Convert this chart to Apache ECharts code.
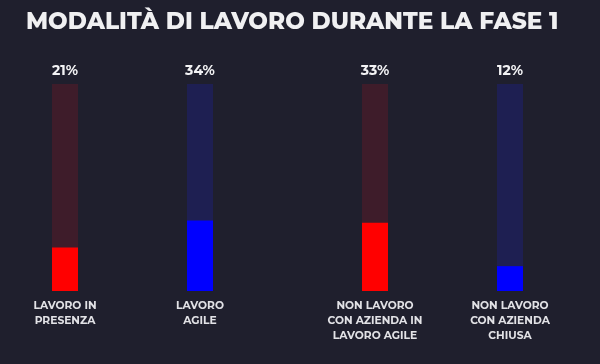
<!DOCTYPE html>
<html><head><meta charset="utf-8">
<script src="https://cdn.jsdelivr.net/npm/echarts@6/dist/echarts.min.js"></script>
<style>html,body{margin:0;padding:0;background:#1f1f2d;}#c{width:600px;height:364px;}</style>
</head><body><div id="c"></div>
<script>
const titleText = 'MODALITÀ DI LAVORO DURANTE LA FASE 1';
const categoriesLeft = ['LAVORO IN\nPRESENZA', 'LAVORO\nAGILE'];
const categoriesRight = ['NON LAVORO\nCON AZIENDA IN\nLAVORO AGILE', 'NON LAVORO\nCON AZIENDA\nCHIUSA'];
const valuesLeft = [21, 34];
const valuesRight = [33, 12];
const scaleMax = 100;
const barColors = ['#ff0000', '#0000ff'];
const trackColors = ['#3e1c2a', '#1e1f52'];

const chart = echarts.init(document.getElementById('c'));
function catAxis(idx, cats){
  return {type:'category', gridIndex:idx, data:cats, boundaryGap:false,
    axisLine:{show:false}, axisTick:{show:false}, splitLine:{show:false},
    axisLabel:{interval:0, margin:7, color:'#e2e2e6', fontFamily:'Montserrat, "Open Sans", sans-serif',
      fontWeight:'bold', fontSize:10.7, lineHeight:15}};
}
function valAxis(idx){
  return {type:'value', gridIndex:idx, min:0, max:scaleMax, show:false};
}
function seriesFor(idx, vals){
  return [
    {type:'bar', xAxisIndex:idx, yAxisIndex:idx, barWidth:26, barGap:'-100%', silent:true,
      data: vals.map((v,i)=>({value:scaleMax, itemStyle:{color:trackColors[i]}})),
      label:{show:true, position:'top', distance:6, color:'#f2f2f4', fontSize:14, fontWeight:'bold',
        fontFamily:'Montserrat, "Open Sans", sans-serif',
        formatter:p=>vals[p.dataIndex]+'%'}},
    {type:'bar', xAxisIndex:idx, yAxisIndex:idx, barWidth:26, barGap:'-100%', silent:true,
      data: vals.map((v,i)=>({value:v, itemStyle:{color:barColors[i]}}))}
  ];
}
chart.setOption({
  backgroundColor:'#1f1f2d',
  animation:false,
  title:{text:titleText, left:21, top:6,
    textStyle:{color:'#f0f0f2', fontSize:23.2, fontWeight:800, fontFamily:'Montserrat, "Open Sans", sans-serif'}},
  grid:[{left:65, width:135, top:84, bottom:73}, {left:375, width:135, top:84, bottom:73}],
  xAxis:[catAxis(0, categoriesLeft), catAxis(1, categoriesRight)],
  yAxis:[valAxis(0), valAxis(1)],
  series:[...seriesFor(0, valuesLeft), ...seriesFor(1, valuesRight)]
});
</script></body></html>
